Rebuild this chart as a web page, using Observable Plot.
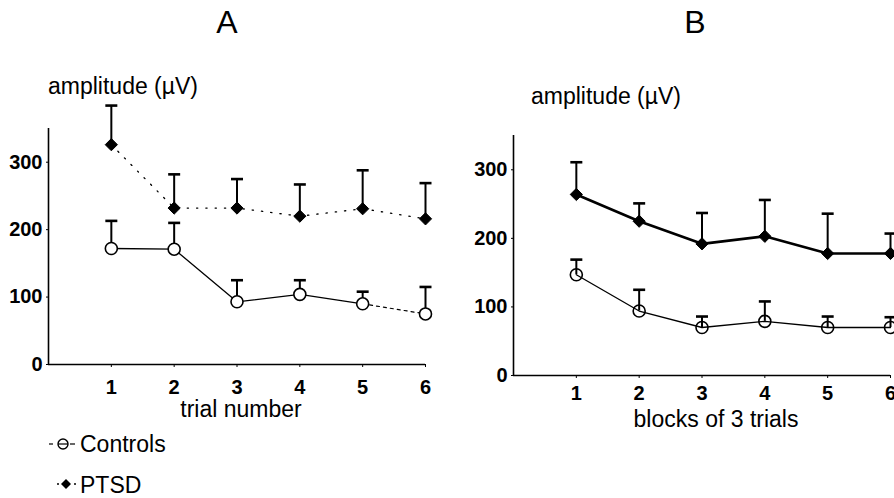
<!DOCTYPE html>
<html>
<head>
<meta charset="utf-8">
<script src="https://cdn.jsdelivr.net/npm/d3@7"></script>
<script src="https://cdn.jsdelivr.net/npm/@observablehq/plot@0.6"></script>
<style>
  html, body { margin: 0; padding: 0; background: #fff; overflow: hidden; }
  #wrap { position: relative; width: 894px; height: 498px; overflow: hidden; font-family: "Liberation Sans", Arial, sans-serif; color: #000; }
  .abs { position: absolute; white-space: nowrap; line-height: 1; }
  .panel { position: absolute; top: 0; }
  .panel svg { max-width: none !important; }
  .title { font-size: 32px; }
  .lab { font-size: 23px; }
</style>
</head>
<body>
<div id="wrap">
  <div class="abs title" id="tA" style="left:227px; top:6px; transform:translateX(-50%);">A</div>
  <div class="abs title" id="tB" style="left:695px; top:6px; transform:translateX(-50%);">B</div>
  <div class="abs lab" style="left:48px; top:75px;">amplitude (µV)</div>
  <div class="abs lab" style="left:531px; top:85px;">amplitude (µV)</div>
  <div class="panel" id="pA" style="left:0px;"></div>
  <div class="panel" id="pB" style="left:450px;"></div>
  <div class="abs lab" style="left:241px; top:398px; transform:translateX(-50%);">trial number</div>
  <div class="abs lab" style="left:716px; top:408px; transform:translateX(-50%);">blocks of 3 trials</div>
  <svg class="abs" style="left:44px; top:430px;" width="40" height="65">
    <line x1="5" x2="9" y1="14" y2="14" stroke="#000" stroke-width="1.2"/>
    <circle cx="19" cy="14" r="5" fill="#fff" stroke="#000" stroke-width="1.4"/>
    <line x1="14" x2="24" y1="14" y2="14" stroke="#000" stroke-width="1.2"/>
    <line x1="26" x2="31" y1="14" y2="14" stroke="#000" stroke-width="1.2"/>
    <circle cx="14" cy="54" r="1" fill="#000"/>
    <path d="M22,49 L27,54 L22,59 L17,54 Z" fill="#000"/>
    <circle cx="31" cy="54" r="1" fill="#000"/>
  </svg>
  <div class="abs lab" style="left:80px; top:433px;">Controls</div>
  <div class="abs lab" style="left:80px; top:474px;">PTSD</div>
</div>
<script>
// ---- data ----
const positions = [1, 2, 3, 4, 5, 6];
const yTicks = [0, 100, 200, 300];
// Panel A: trial number
const aControlsMean = [172, 171, 93, 104, 90, 75];
const aControlsSE   = [41, 39, 32, 21, 18, 40];
const aPtsdMean     = [326, 232, 232, 220, 231, 216];
const aPtsdSE       = [58, 50, 43, 47, 57, 53];
// Panel B: blocks of 3 trials
const bControlsMean = [147, 94, 70, 79, 70, 70];
const bControlsSE   = [22, 31, 16, 29, 16, 15];
const bPtsdMean     = [264, 225, 192, 203, 178, 178];
const bPtsdSE       = [47, 26, 45, 53, 58, 29];

const rows = (means, ses) => positions.map((x, i) => ({x, mean: means[i], top: means[i] + ses[i], i}));

const capSymbol = {
  draw(context, size) {
    const r = Math.sqrt(size / Math.PI);
    context.moveTo(-r, 0);
    context.lineTo(r, 0);
  }
};

function panel(opts) {
  const C = rows(opts.cm, opts.cse);
  const P = rows(opts.pm, opts.pse);
  const marks = [
    Plot.axisX({ticks: positions, tickSize: 3, tickPadding: opts.xpad, label: null, fontSize: 20, fontWeight: "bold", tickFormat: d => String(d)}),
    Plot.axisY({ticks: yTicks, tickSize: 2, tickPadding: 4, label: null, fontSize: 20, fontWeight: "bold", tickFormat: d => String(d)}),
    Plot.ruleY([0], {stroke: "#000", strokeWidth: 1.6}),
    Plot.ruleX([0], {y1: 0, y2: 350, stroke: "#000", strokeWidth: 1.6}),
    // error bars
    Plot.ruleX(P, {x: "x", y1: "mean", y2: "top", stroke: "#000", strokeWidth: 2}),
    Plot.dot(P, {x: "x", y: "top", symbol: capSymbol, r: 6, stroke: "#000", strokeWidth: 2.6}),
    Plot.ruleX(C, {x: "x", y1: "mean", y2: "top", stroke: "#000", strokeWidth: 2}),
    Plot.dot(C, {x: "x", y: "top", symbol: capSymbol, r: 6, stroke: "#000", strokeWidth: 2.6}),
  ];
  if (opts.mode === "A") {
    marks.push(
      Plot.line(P, {x: "x", y: "mean", stroke: "#000", strokeWidth: 1.3, strokeDasharray: "1.3,8", strokeLinecap: "round"}),
      Plot.line(C.filter(d => d.i <= 4), {x: "x", y: "mean", stroke: "#000", strokeWidth: 1.3}),
      Plot.line(C.filter(d => d.i >= 4), {x: "x", y: "mean", stroke: "#000", strokeWidth: 1.2, strokeDasharray: "3,4"})
    );
  } else {
    marks.push(
      Plot.line(P, {x: "x", y: "mean", stroke: "#000", strokeWidth: 2.6}),
      Plot.line(C, {x: "x", y: "mean", stroke: "#000", strokeWidth: 1.3})
    );
  }
  marks.push(
    Plot.dot(P, {x: "x", y: "mean", symbol: "diamond2", r: 5.5, fill: "#000", stroke: "#000", strokeWidth: 1}),
    Plot.dot(C, {x: "x", y: "mean", r: 6, fill: opts.mode === "A" ? "#fff" : "none", stroke: "#000", strokeWidth: 1.6})
  );
  return Plot.plot({
    width: opts.width,
    height: opts.height,
    marginLeft: opts.ml,
    marginRight: opts.mr,
    marginTop: opts.mt,
    marginBottom: opts.mb,
    style: {fontFamily: "'Liberation Sans', Arial, sans-serif", color: "#000", background: "transparent", overflow: "visible", maxWidth: "none"},
    x: {domain: [0, 6]},
    y: {domain: [0, 350]},
    marks
  });
}

document.getElementById("pA").appendChild(panel({
  mode: "A", cm: aControlsMean, cse: aControlsSE, pm: aPtsdMean, pse: aPtsdSE,
  width: 450, height: 410, ml: 48, mr: 25, mt: 128, mb: 46, xpad: 12
}));
document.getElementById("pB").appendChild(panel({
  mode: "B", cm: bControlsMean, cse: bControlsSE, pm: bPtsdMean, pse: bPtsdSE,
  width: 470, height: 420, ml: 63, mr: 30, mt: 135, mb: 45, xpad: 7
}));
</script>
</body>
</html>
